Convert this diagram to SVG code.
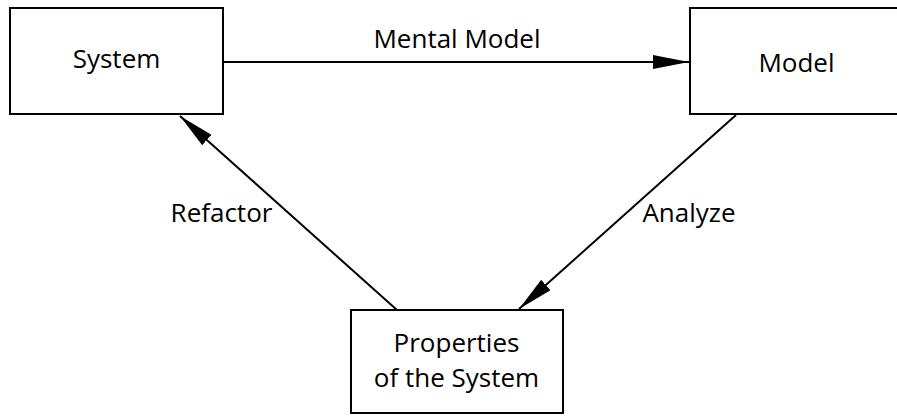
<svg xmlns="http://www.w3.org/2000/svg" width="897" height="416" viewBox="0 0 897 416">
<style>
.box{fill:#fff;stroke:#000;stroke-width:2}
.edge{fill:none;stroke:#000;stroke-width:2}
text{font-family:"Open Sans",Lato,sans-serif;font-size:26px;fill:#000;font-variant-ligatures:none}
.c{text-anchor:middle}
</style>
<defs>
<marker id="ah" viewBox="0 0 36 14" refX="36" refY="7" markerWidth="36" markerHeight="14" markerUnits="userSpaceOnUse" orient="auto">
<path d="M0,0 L36,7 L0,14 Z" fill="#000"/>
</marker>
</defs>
<rect width="897" height="416" fill="#fff"/>
<g id="connectors">
<line class="edge" x1="223" y1="62" x2="689" y2="62" marker-end="url(#ah)"/>
<line class="edge" x1="397" y1="310" x2="180" y2="116" marker-end="url(#ah)"/>
<line class="edge" x1="736" y1="115" x2="519" y2="309" marker-end="url(#ah)"/>
<text class="c" x="457" y="48">Mental Model</text>
<text class="c" x="221.5" y="222">Refactor</text>
<text class="c" x="689" y="222">Analyze</text>
</g>
<g id="system">
<rect class="box" x="10" y="8" width="213" height="106"/>
<text class="c" x="116.5" y="68">System</text>
</g>
<g id="model">
<rect class="box" x="690" y="8" width="213" height="106"/>
<text class="c" x="796.5" y="72">Model</text>
</g>
<g id="properties">
<rect class="box" x="351" y="310" width="212" height="103"/>
<text class="c" x="456.5" y="352">Properties</text>
<text class="c" x="456.5" y="387">of the System</text>
</g>
</svg>
